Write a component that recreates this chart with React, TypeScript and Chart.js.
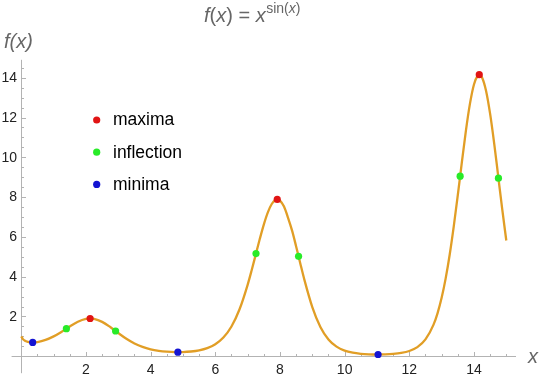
import React, { useEffect, useRef } from "react";
import { Chart, registerables } from "chart.js";

Chart.register(...registerables);

// curve samples of f(x) = x^sin(x)
const curveX = [
  0, 0.05, 0.1, 0.2, 0.3, 0.35, 0.5, 0.75, 1, 1.25, 1.5, 1.75, 2, 2.125, 2.25, 2.5, 2.75, 3, 3.25, 3.5,
  3.75, 4, 4.25, 4.5, 4.75, 5, 5.25, 5.5, 5.75, 6, 6.25, 6.5, 6.75, 7, 7.125, 7.25, 7.375, 7.5, 7.625,
  7.75, 7.875, 7.916, 8, 8.125, 8.25, 8.375, 8.5, 8.625, 8.75, 9, 9.25, 9.5, 9.75, 10, 10.25, 10.5,
  10.75, 11, 11.25, 11.5, 11.75, 12, 12.25, 12.5, 12.75, 12.875, 13, 13.125, 13.25, 13.375, 13.5,
  13.625, 13.75, 13.875, 14, 14.125, 14.164, 14.25, 14.375, 14.5, 14.625, 14.75, 14.875, 15,
];
const curveY = [
  1.0, 0.861, 0.795, 0.726, 0.701, 0.698, 0.717, 0.822, 1.0, 1.236, 1.499, 1.734, 1.878, 1.898, 1.88,
  1.73, 1.471, 1.168, 0.88, 0.644, 0.47, 0.35, 0.274, 0.23, 0.211, 0.214, 0.241, 0.3, 0.411, 0.606,
  0.941, 1.496, 2.362, 3.591, 4.326, 5.107, 5.89, 6.619, 7.231, 7.666, 7.872, 7.885, 7.826, 7.525,
  6.958, 6.314, 5.522, 4.692, 3.877, 2.473, 1.472, 0.844, 0.483, 0.286, 0.181, 0.126, 0.1, 0.091,
  0.096, 0.118, 0.166, 0.264, 0.459, 0.846, 1.592, 2.173, 2.938, 3.914, 5.116, 6.528, 8.099, 9.741,
  11.33, 12.683, 13.66, 14.121, 14.15, 14.015, 13.336, 12.18, 10.704, 9.046, 7.379, 5.819,
];

const maximaX = [2.128, 7.916, 14.164];
const maximaY = [1.898, 7.885, 14.15];
const inflectionX = [1.395, 2.916, 7.259, 8.575, 13.572, 14.757];
const inflectionY = [1.388, 1.271, 5.161, 5.023, 9.05, 8.949];
const minimaX = [0.352, 4.843, 11.034];
const minimaY = [0.698, 0.209, 0.091];

const xTickLabels = [2, 4, 6, 8, 10, 12, 14];
const yTickLabels = [2, 4, 6, 8, 10, 12, 14];
const minorStep = 0.5;

const FONT = '"Liberation Sans", Arial, sans-serif';
const CURVE_COLOR = "rgb(225,158,38)";
const RED = "rgb(225,20,20)";
const GREEN = "rgb(40,235,40)";
const BLUE = "rgb(20,20,210)";

const pts = (xs: number[], ys: number[]) => xs.map((x, i) => ({ x, y: ys[i] }));

const axesPlugin = {
  id: "mmaAxes",
  beforeDatasetsDraw(chart: any) {
    const { ctx, chartArea } = chart;
    const xs = chart.scales.x;
    const ys = chart.scales.y;
    const x0 = Math.round(xs.getPixelForValue(0)) + 0.5;
    const y0 = Math.round(ys.getPixelForValue(0)) + 0.5;
    ctx.save();
    ctx.strokeStyle = "#b3b3b3";
    ctx.lineWidth = 1;
    ctx.beginPath();
    ctx.moveTo(chartArea.left, y0);
    ctx.lineTo(chartArea.right, y0);
    ctx.moveTo(x0, chartArea.top);
    ctx.lineTo(x0, chartArea.bottom);
    ctx.stroke();
    // x ticks
    ctx.beginPath();
    for (let v = minorStep; v <= xs.max; v += minorStep) {
      const px = Math.round(xs.getPixelForValue(v)) + 0.5;
      const major = xTickLabels.includes(v);
      ctx.moveTo(px, y0);
      ctx.lineTo(px, y0 - (major ? 4.5 : 2.5));
    }
    for (let v = minorStep; v <= ys.max; v += minorStep) {
      const py = Math.round(ys.getPixelForValue(v)) + 0.5;
      const major = yTickLabels.includes(v);
      ctx.moveTo(x0, py);
      ctx.lineTo(x0 + (major ? 4.5 : 2.5), py);
    }
    ctx.stroke();
    ctx.fillStyle = "#222";
    ctx.font = `14px ${FONT}`;
    ctx.textAlign = "center";
    ctx.textBaseline = "middle";
    xTickLabels.forEach((v) => {
      ctx.fillText(String(v), xs.getPixelForValue(v), y0 + 13.5);
    });
    ctx.textAlign = "right";
    yTickLabels.forEach((v) => {
      ctx.fillText(String(v), x0 - 4.5, ys.getPixelForValue(v) + 0.5);
    });
    // axis labels
    ctx.fillStyle = "#666";
    ctx.font = `italic 20px ${FONT}`;
    ctx.textAlign = "left";
    ctx.textBaseline = "alphabetic";
    ctx.fillText("f(x)", 4, 48);
    ctx.fillText("x", 528, 363);
    ctx.restore();
  },
  afterDraw(chart: any) {
    const { ctx } = chart;
    ctx.save();
    // title  f(x) = x^{sin(x)}
    ctx.fillStyle = "#666";
    ctx.textBaseline = "alphabetic";
    ctx.textAlign = "left";
    let x = 204;
    const base = 22;
    const seg = (t: string, font: string, y: number) => {
      ctx.font = font;
      ctx.fillText(t, x, y);
      x += ctx.measureText(t).width;
    };
    seg("f", `italic 20px ${FONT}`, base);
    seg("(", `20px ${FONT}`, base);
    seg("x", `italic 20px ${FONT}`, base);
    seg(")", `20px ${FONT}`, base);
    seg(" = ", `20px ${FONT}`, base);
    seg("x", `italic 20px ${FONT}`, base);
    x += 0.5;
    seg("sin(", `14px ${FONT}`, 13);
    seg("x", `italic 14px ${FONT}`, 13);
    seg(")", `14px ${FONT}`, 13);

    // legend
    const items = chart.data.datasets.filter((d: any) => d.showInLegend);
    items.forEach((d: any, i: number) => {
      const cy = 120 + i * 32.2;
      ctx.beginPath();
      ctx.fillStyle = d.backgroundColor;
      ctx.arc(96.7, cy, 3.6, 0, Math.PI * 2);
      ctx.fill();
      ctx.fillStyle = "#000";
      ctx.font = `17.5px ${FONT}`;
      ctx.textBaseline = "middle";
      ctx.fillText(d.label, 113, cy + 0.5);
    });
    ctx.restore();
  },
};

export default function App() {
  const ref = useRef<HTMLCanvasElement>(null);
  useEffect(() => {
    if (!ref.current) return;
    const pointDs = (label: string, xs: number[], ys: number[], color: string) => ({
      label,
      data: pts(xs, ys),
      showLine: false,
      pointRadius: 3.6,
      pointHoverRadius: 3.6,
      pointBorderWidth: 0,
      backgroundColor: color,
      borderColor: color,
      clip: false as any,
      showInLegend: true,
    });
    const chart = new Chart(ref.current, {
      type: "scatter",
      data: {
        datasets: [
          pointDs("maxima", maximaX, maximaY, RED),
          pointDs("inflection", inflectionX, inflectionY, GREEN),
          pointDs("minima", minimaX, minimaY, BLUE),
          {
            label: "f",
            data: pts(curveX, curveY),
            showLine: true,
            borderColor: CURVE_COLOR,
            backgroundColor: CURVE_COLOR,
            borderWidth: 2.3,
            pointRadius: 0,
            pointHoverRadius: 0,
            cubicInterpolationMode: "monotone",
            clip: false as any,
          } as any,
        ] as any,
      },
      options: {
        animation: false,
        responsive: false,
        events: [],
        layout: { padding: { left: 11.6, right: 24, top: 59.8, bottom: 6.8 } },
        plugins: {
          legend: { display: false },
          title: { display: false },
          tooltip: { enabled: false },
        },
        scales: {
          x: { type: "linear", min: -0.3, max: 15.3, display: false },
          y: { type: "linear", min: -0.85, max: 14.9, display: false },
        },
      },
      plugins: [axesPlugin],
    });
    return () => chart.destroy();
  }, []);
  return (
    <div style={{ position: "fixed", left: 0, top: 0, width: 540, height: 380, background: "#fff" }}>
      <canvas ref={ref} width={540} height={380} />
    </div>
  );
}
